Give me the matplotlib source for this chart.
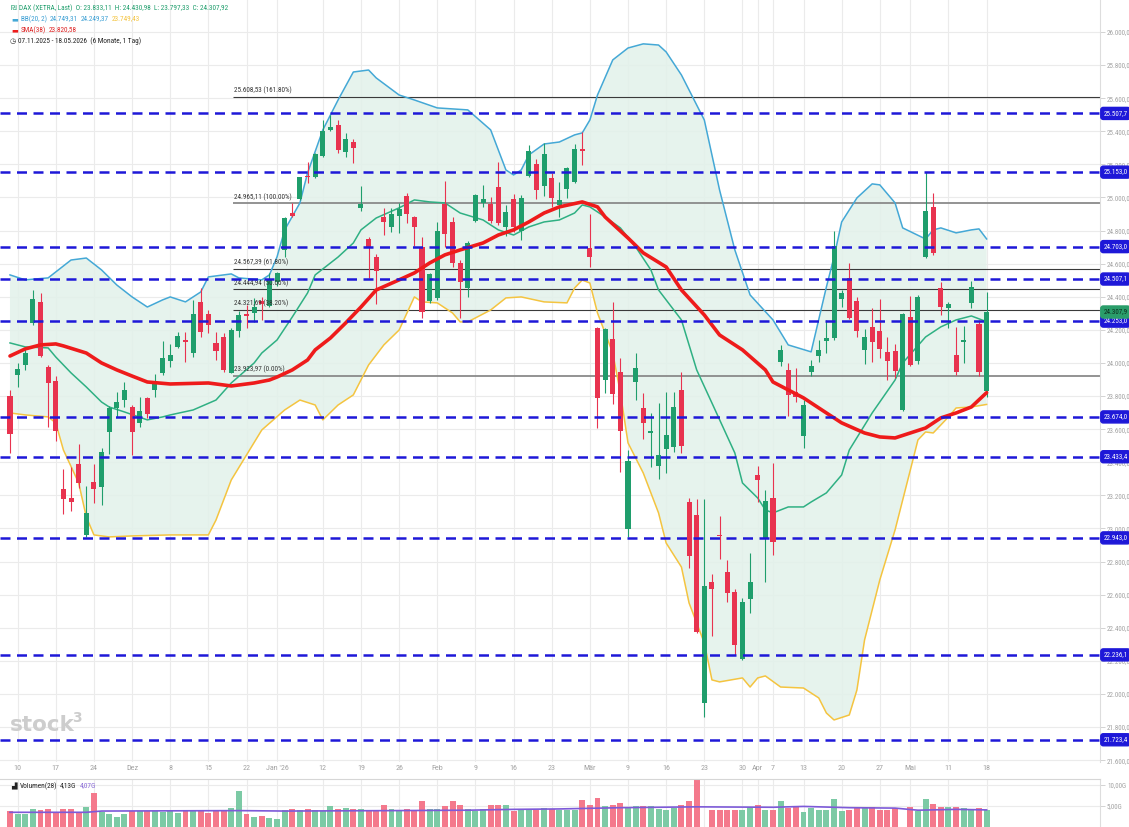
import numpy as np
import matplotlib
matplotlib.use('Agg')
import matplotlib.pyplot as plt
from matplotlib import font_manager

# ---------------- data ----------------
opens = [23800, 23925, 23988, 24243, 24370, 23974, 23891, 23238, 23182, 23388,
         22960, 23279, 23249, 23581, 23728, 23776, 23732, 23635, 23788, 23837,
         23938, 24014, 24095, 24139, 24058, 24370, 24298, 24122, 24159, 23941,
         24195, 24294, 24300, 24374, 24344, 24491, 24683, 24908, 24991, 25130,
         25122, 25250, 25409, 25438, 25275, 25337, 24938, 24749, 24638, 24880,
         24820, 24888, 25009, 24880, 24702, 24374, 24391, 24960, 24850, 24606,
         24455, 24860, 24965, 24959, 25061, 24820, 24991, 24799, 25130, 25202,
         25071, 25116, 24954, 25051, 25095, 25293, 24696, 24209, 23897, 24145,
         23944, 22995, 23887, 23726, 23577, 23377, 23478, 23494, 23837, 23158,
         23083, 21944, 22677, 22962, 22739, 22614, 22209, 22572, 23323, 22941,
         23182, 24006, 23958, 23826, 23559, 23945, 24042, 24134, 24149, 24385,
         24512, 24374, 24078, 24216, 24195, 24068, 24074, 23716, 24276, 24014,
         24638, 24940, 24451, 24334, 24048, 24125, 24364, 24234, 23833.11]
highs = [23837, 23998, 24089, 24441, 24421, 23988, 23921, 23357, 23373, 23510,
         23257, 23390, 23484, 23740, 23826, 23883, 23746, 23792, 23796, 23933,
         24134, 24115, 24189, 24189, 24380, 24451, 24320, 24185, 24179, 24209,
         24314, 24350, 24391, 24400, 24542, 24551, 24884, 24965, 25125, 25216,
         25267, 25468, 25498, 25468, 25388, 25351, 25069, 24759, 24658, 24938,
         24934, 24965, 25025, 24888, 24763, 24545, 24853, 25101, 24880, 24622,
         24739, 25021, 25075, 25001, 25216, 24954, 25021, 25015, 25317, 25230,
         25331, 25149, 25095, 25186, 25323, 25397, 24898, 24219, 24209, 24370,
         24028, 23474, 24062, 23820, 23696, 23760, 23826, 23826, 23945, 23182,
         23176, 23176, 22725, 23075, 22809, 22632, 22578, 22850, 23377, 23232,
         23394, 24108, 24000, 23970, 23776, 24018, 24139, 24260, 24799, 24441,
         24606, 24400, 24203, 24330, 24385, 24155, 24115, 24302, 24405, 24411,
         25156, 25025, 24491, 24370, 24216, 24223, 24497, 24260, 24430.98]
lows = [23456, 23857, 23958, 24229, 24038, 23615, 23530, 23086, 23107, 23243,
        22950, 23152, 23140, 23450, 23675, 23736, 23444, 23611, 23666, 23796,
        23927, 23977, 24089, 24008, 24038, 24155, 24179, 24018, 23947, 23938,
        24159, 24209, 24249, 24260, 24340, 24465, 24642, 24884, 24985, 25086,
        25116, 25246, 25401, 25270, 25246, 25206, 24918, 24511, 24356, 24773,
        24793, 24783, 24847, 24707, 24270, 24360, 24380, 24702, 24582, 24270,
        24397, 24853, 24944, 24844, 24833, 24767, 24793, 24743, 25122, 24989,
        25009, 24940, 24884, 24995, 25089, 25196, 24582, 23605, 23817, 23752,
        23343, 22950, 23776, 23539, 23373, 23297, 23337, 23464, 23454, 22759,
        22367, 21863, 22350, 22814, 22557, 22235, 22205, 22487, 23162, 22678,
        22840, 23982, 23680, 23766, 23484, 23921, 24006, 24062, 24139, 24340,
        24264, 24159, 23994, 24008, 24028, 23897, 23907, 23711, 23982, 23994,
        24632, 24652, 24290, 24209, 23927, 24002, 24330, 23921, 23797.33]
closes = [23571, 23962, 24062, 24385, 24042, 23877, 23591, 23176, 23160, 23277,
          23092, 23237, 23462, 23726, 23766, 23837, 23585, 23712, 23692, 23877,
          24028, 24046, 24163, 24128, 24294, 24185, 24229, 24074, 23958, 24199,
          24290, 24284, 24340, 24356, 24506, 24542, 24874, 24890, 25122, 25122,
          25263, 25403, 25426, 25287, 25353, 25297, 24959, 24702, 24557, 24853,
          24900, 24932, 24898, 24823, 24310, 24537, 24799, 24779, 24602, 24487,
          24723, 25015, 24991, 24858, 24847, 24914, 24820, 24998, 25281, 25045,
          25263, 24995, 24985, 25176, 25291, 25283, 24638, 23787, 24205, 23813,
          23591, 23410, 23968, 23639, 23589, 23444, 23565, 23732, 23498, 22836,
          22373, 22652, 22632, 22954, 22612, 22296, 22557, 22678, 23293, 23166,
          22920, 24078, 23806, 23796, 23746, 23982, 24078, 24153, 24707, 24421,
          24270, 24195, 24155, 24125, 24082, 24014, 23951, 24294, 23988, 24400,
          24920, 24663, 24340, 24354, 23947, 24139, 24457, 23947, 24307.92]
volumes = [3.7, 3.2, 3.2, 4.2, 4.0, 4.4, 3.5, 4.2, 4.3, 3.4,
           4.8, 8.1, 3.5, 3.2, 2.5, 3.0, 3.8, 3.8, 3.8, 3.8,
           3.5, 3.8, 3.4, 3.8, 3.7, 3.7, 3.4, 3.8, 3.7, 4.6,
           8.6, 3.0, 2.5, 2.6, 2.2, 2.0, 4.0, 4.2, 4.1, 4.2,
           4.0, 3.9, 4.9, 4.2, 4.6, 4.2, 4.4, 4.1, 4.0, 5.2,
           4.3, 4.0, 4.3, 4.0, 6.1, 4.4, 4.2, 5.0, 6.3, 5.3,
           4.2, 3.9, 4.3, 5.2, 5.3, 5.2, 3.8, 4.3, 4.4, 4.1,
           4.5, 4.3, 4.1, 4.0, 4.0, 6.4, 5.3, 6.8, 5.0, 5.3,
           5.8, 4.6, 5.0, 5.0, 5.0, 4.3, 4.0, 4.6, 5.3, 6.1,
           11.2, np.nan, 4.0, 4.1, 4.0, 4.1, 4.0, 4.8, 5.3, 4.1,
           4.0, 6.2, 4.6, 5.0, 3.6, 4.6, 4.0, 4.0, 6.6, 3.7,
           4.0, 4.6, 4.6, 4.8, 4.0, 4.0, 4.6, np.nan, 4.8, 3.9,
           6.6, 5.5, 4.8, 4.7, 4.8, 4.6, 4.0, 4.6, 4.13]

# indicator samples (trading-day index, value)
bb_up_idx = [0, 2, 5, 6, 8, 10, 12, 14, 16, 18, 20, 21, 23, 25, 26, 29, 30, 33, 34, 35,
             36, 38, 39, 41, 43, 45, 47, 48, 51, 53, 56, 60, 63, 64, 65, 66, 67, 68, 70, 72,
             74, 75, 76, 77, 79, 81, 83, 85, 86, 88, 91, 93, 95, 97, 100, 102, 105, 107, 108, 109,
             111, 113, 114, 116, 117, 120, 121, 122, 124, 126, 127, 128]
bb_up_val = [24532, 24502, 24514, 24550, 24622, 24634, 24562, 24471, 24399, 24338, 24381, 24399,
             24369, 24429, 24520, 24538, 24514, 24502, 24532, 24641, 24804, 24967, 25148, 25408,
             25589, 25758, 25770, 25722, 25619, 25589, 25541, 25529, 25408, 25287, 25166, 25136,
             25166, 25257, 25323, 25335, 25378, 25390, 25468, 25619, 25831, 25903, 25928, 25921,
             25879, 25740, 25468, 25045, 24683, 24411, 24260, 24109, 24067, 24459, 24640, 24852,
             24997, 25082, 25076, 24967, 24816, 24749, 24804, 24816, 24786, 24804, 24810, 24749.31]
bb_mid_idx = [0, 2, 5, 6, 8, 10, 12, 13, 15, 18, 20, 21, 24, 27, 29, 32, 33, 35, 37, 39,
              40, 42, 43, 45, 46, 48, 51, 53, 55, 57, 59, 62, 64, 66, 68, 70, 72, 74, 75, 76,
              78, 80, 82, 84, 85, 88, 90, 92, 95, 96, 98, 99, 100, 102, 104, 105, 107, 109, 110, 113,
              116, 117, 120, 122, 124, 126, 128]
bb_mid_val = [24121, 24097, 24091, 24036, 23940, 23855, 23764, 23734, 23704, 23656, 23674, 23686,
              23716, 23776, 23879, 24000, 24060, 24139, 24278, 24423, 24532, 24604, 24640, 24725,
              24804, 24876, 24937, 24985, 24973, 24967, 24906, 24864, 24804, 24773, 24822, 24852,
              24864, 24906, 24955, 24943, 24882, 24816, 24701, 24562, 24441, 24260, 23958, 23758,
              23456, 23275, 23184, 23112, 23094, 23130, 23130, 23160, 23215, 23323, 23474, 23698,
              23897, 24000, 24157, 24218, 24260, 24284, 24249.37]
bb_low_idx = [0, 2, 5, 6, 7, 9, 10, 11, 13, 16, 21, 26, 27, 29, 33, 36, 38, 40, 41, 43,
              45, 47, 49, 51, 53, 54, 56, 58, 59, 60, 63, 65, 67, 70, 73, 74, 75, 76, 77, 78,
              79, 80, 81, 83, 85, 86, 88, 89, 91, 92, 93, 96, 97, 98, 99, 101, 104, 106, 107, 108,
              110, 111, 112, 114, 116, 118, 119, 120, 121, 123, 124, 126, 128]
bb_low_val = [23698, 23686, 23674, 23638, 23474, 23275, 23070, 22961, 22949, 22955, 22961, 22961,
              23051, 23293, 23595, 23716, 23776, 23746, 23656, 23746, 23807, 23988, 24109, 24199,
              24399, 24369, 24363, 24302, 24248, 24248, 24320, 24393, 24399, 24369, 24363, 24453,
              24501, 24483, 24302, 24181, 24060, 23819, 23517, 23335, 23094, 22912, 22767, 22550,
              22308, 22085, 22073, 22097, 22042, 22097, 22109, 22042, 22036, 21976, 21885, 21843,
              21873, 22024, 22326, 22689, 22991, 23353, 23535, 23583, 23577, 23674, 23728, 23734,
              23749.43]
sma_idx = [0, 2, 4, 6, 7, 10, 12, 14, 16, 18, 21, 26, 29, 32, 34, 35, 37, 39, 40, 42,
           44, 46, 48, 51, 53, 55, 57, 59, 62, 64, 66, 68, 70, 72, 75, 77, 78, 81, 83, 86,
           88, 91, 93, 96, 99, 100, 102, 104, 107, 109, 112, 114, 116, 118, 120, 122, 124, 126, 128]
sma_val = [24042, 24085, 24109, 24115, 24103, 24060, 24000, 23958, 23921, 23885, 23873, 23879,
           23861, 23879, 23897, 23915, 23958, 24018, 24079, 24151, 24242, 24338, 24441, 24502,
           24544, 24604, 24653, 24683, 24725, 24773, 24804, 24852, 24906, 24943, 24973, 24943,
           24882, 24755, 24665, 24580, 24441, 24290, 24169, 24079, 23958, 23885, 23837, 23789,
           23698, 23638, 23577, 23553, 23547, 23577, 23607, 23668, 23698, 23734, 23820.58]
vol_ma_idx = [0, 10, 12, 30, 36, 50, 60, 66, 72, 80, 90, 100, 104, 110, 116, 119, 124, 128]
vol_ma_val = [3.5, 3.5, 3.8, 3.9, 3.8, 3.9, 4.0, 4.2, 4.3, 4.6, 4.8, 4.7, 4.9, 4.6, 4.5, 4.0, 4.2, 4.07]

sr_levels = [25507.7, 25153.0, 24703.0, 24507.1, 24253.0, 23674.0, 23433.4, 22943.0, 22236.1, 21723.4]
fib_levels = [25608.53, 24965.11, 24567.39, 24444.94, 24321.69, 23923.97]
fib_pcts = ['161.80%', '100.00%', '61.80%', '50.00%', '38.20%', '0.00%']
fib_start = 29.2

xtick_idx = [1, 6, 11, 16, 21, 26, 31, 35, 41, 46, 51, 56, 61, 66, 71, 76, 81, 86, 91, 96, 98, 100,
             104, 109, 114, 118, 123, 128]
xtick_lbl = ['10', '17', '24', 'Dez', '8', '15', '22', "Jan '26", '12', '19', '26', 'Feb', '9', '16',
             '23', 'Mär', '9', '16', '23', '30', 'Apr', '7', '13', '20', '27', 'Mai', '11', '18']

# ---------------- style ----------------
_names = {f.name for f in font_manager.fontManager.ttflist}
NARROW = None
for cand in ('Roboto Condensed', 'Liberation Sans Narrow', 'Open Sans Condensed', 'DejaVu Sans Condensed'):
    if cand in _names:
        NARROW = cand
        break
BASE = NARROW if NARROW else 'Liberation Sans'
plt.rcParams['font.family'] = [BASE, 'DejaVu Sans']
K = 1.12 if NARROW else 1.0   # narrow fonts can be a little larger

GREEN = '#1f9e6c'
RED = '#e8334f'
VGREEN = '#7ccaa5'
VRED = '#f4798c'
BLUE_DASH = '#1e18d8'
GRID = '#ebebeb'
TICKC = '#a3a3a3'


def de(v, d=2):
    s = f"{v:,.{d}f}"
    return s.replace(',', 'X').replace('.', ',').replace('X', '.')


W, H = 1129, 827
fig = plt.figure(figsize=(W / 100, H / 100), dpi=100)
fig.patch.set_facecolor('white')

ax = fig.add_axes([0, 1 - 762 / H, 1100 / W, 762 / H])
axv = fig.add_axes([0, 0, 1100 / W, 48 / H])

XL = (-1.31, 142.86)
ax.set_xlim(*XL)
ax.set_ylim(21589, 26193)
axv.set_xlim(*XL)
axv.set_ylim(0, 11.43)

n = len(closes)
idx = np.arange(n)
o = np.array(opens, float)
h = np.array(highs, float)
l = np.array(lows, float)
c = np.array(closes, float)
up = c >= o

# grid
for a in (ax, axv):
    for xi in xtick_idx:
        a.axvline(xi, color=GRID, lw=0.8, zorder=0)
for v in range(21600, 26001, 200):
    ax.axhline(v, color=GRID, lw=0.8, zorder=0)
for v in (5, 10):
    axv.axhline(v, color=GRID, lw=0.8, zorder=0)

# bollinger band fill
poly_x = list(bb_up_idx) + list(bb_low_idx[::-1])
poly_y = list(bb_up_val) + list(bb_low_val[::-1])
ax.fill(poly_x, poly_y, color='#e2f1ea', alpha=0.85, lw=0, zorder=1)
ax.plot(bb_up_idx, bb_up_val, color='#44a8d6', lw=1.1, zorder=3)
ax.plot(bb_mid_idx, bb_mid_val, color='#2fb083', lw=1.1, zorder=3)
ax.plot(bb_low_idx, bb_low_val, color='#f4c440', lw=1.1, zorder=3)

# fibonacci
for v, p in zip(fib_levels, fib_pcts):
    strong = p in ('100.00%', '0.00%')
    ax.hlines(v, fib_start, XL[1], color='#8a8a8a' if strong else '#3a3a3a',
              lw=1.3 if strong else 0.8, zorder=2)
    ax.text(fib_start + 0.1, v + 14, f"{de(v)} ({p})", fontsize=4.6 * K, color='#333333',
            va='bottom', ha='left', zorder=6)

# candles
cols = np.where(up, GREEN, RED)
ax.vlines(idx, l, h, colors=cols, lw=0.8, zorder=4)
body_lo = np.minimum(o, c)
body_h = np.maximum(np.abs(c - o), 8)
ax.bar(idx, body_h, bottom=body_lo, width=0.66, color=cols, lw=0, zorder=5)

# SMA
ax.plot(sma_idx, sma_val, color='#ee1b1b', lw=2.6, zorder=6, solid_capstyle='round')

# support / resistance dashed
for v in sr_levels:
    ax.axhline(v, color=BLUE_DASH, lw=1.8, ls=(0, (4, 2.6)), zorder=7)
    ax.text(1.003, v, de(v, 1), transform=ax.get_yaxis_transform(), fontsize=4.5 * K,
            color='white', va='center', ha='left', zorder=9, clip_on=False,
            bbox=dict(boxstyle='round,pad=0.36', fc=BLUE_DASH, ec=BLUE_DASH))
ax.text(1.003, closes[-1], de(closes[-1], 1), transform=ax.get_yaxis_transform(),
        fontsize=4.5 * K, color='#0b2b1c', va='center', ha='left', zorder=10, clip_on=False,
        bbox=dict(boxstyle='round,pad=0.36', fc='#2a9d6a', ec='#2a9d6a'))

# axes styling
for a in (ax, axv):
    for s in ('top', 'left', 'bottom'):
        a.spines[s].set_visible(False)
    a.spines['right'].set_color('#dddddd')
    a.yaxis.tick_right()
    a.tick_params(axis='y', colors='#cccccc', labelcolor=TICKC, labelsize=4.5 * K, length=3.5,
                  width=0.6, pad=1.5)
    a.set_xticks([])
axv.spines['top'].set_visible(True)
axv.spines['top'].set_color('#d6d6d6')

ax.set_yticks(range(21600, 26001, 200))
ax.set_yticklabels([de(v, 1) for v in range(21600, 26001, 200)])
axv.set_yticks([5, 10])
axv.set_yticklabels(['5,00G', '10,00G'])

for xi, lb in zip(xtick_idx, xtick_lbl):
    ax.text(xi, -6 / 762, lb, transform=ax.get_xaxis_transform(), fontsize=5.2 * K,
            color=TICKC, ha='center', va='center', clip_on=False)

# volume
vcols = np.where(up, VGREEN, VRED)
vol = np.array(volumes, float)
ok = ~np.isnan(vol)
axv.bar(idx[ok], vol[ok], width=0.78, color=vcols[ok], lw=0, bottom=0, zorder=2)
axv.plot(vol_ma_idx, vol_ma_val, color='#7d5ad8', lw=1.2, zorder=3)

# watermark
ax.text(0.009, 0.048, 'stock', transform=ax.transAxes, fontsize=15.5, color='#cdcdcd',
        fontweight='bold', ha='left', va='center', zorder=1, family='DejaVu Sans')
ax.text(0.066, 0.058, '3', transform=ax.transAxes, fontsize=10, color='#cdcdcd',
        fontweight='bold', ha='left', va='center', zorder=1, family='DejaVu Sans')

# legend block (pieces chained by measured width)
renderer = fig.canvas.get_renderer()


def chain(x0, y, parts, fs, gap=3.0):
    x = x0
    for s, col, fam in parts:
        kw = {'family': fam} if fam else {}
        t = fig.text(x / W, 1 - y / H, s, fontsize=fs, color=col, va='center', ha='left', **kw)
        bb = t.get_window_extent(renderer)
        x = bb.x1 + gap


fs = 4.7 * K
chain(11, 8, [('₪', GREEN, 'DejaVu Sans'),
              ('DAX (XETRA, Last)  O: 23.833,11  H: 24.430,98  L: 23.797,33  C: 24.307,92', GREEN, None)], fs, 2)
chain(11, 19, [('▬', '#44a8d6', 'DejaVu Sans'), ('BB(20, 2)', '#3b9fd4', None),
               ('24.749,31', '#3b9fd4', None), ('24.249,37', '#3b9fd4', None),
               ('23.749,43', '#f4c440', None)], fs, 3)
chain(11, 30, [('▬', '#ee1b1b', 'DejaVu Sans'), ('SMA(38)', '#dd2222', None),
               ('23.820,58', '#dd2222', None)], fs, 3)
chain(10, 41, [('◷', '#333333', 'DejaVu Sans'),
               ('07.11.2025 - 18.05.2026  (6 Monate, 1 Tag)', '#222222', None)], fs, 2)
chain(11, 786, [('▟', '#222222', 'DejaVu Sans'), ('Volumen(28)', '#222222', None),
                ('4,13G', '#222222', None), ('4,07G', '#8a6ad8', None)], fs, 3)

fig.savefig('out.png', dpi=100, facecolor='white')
